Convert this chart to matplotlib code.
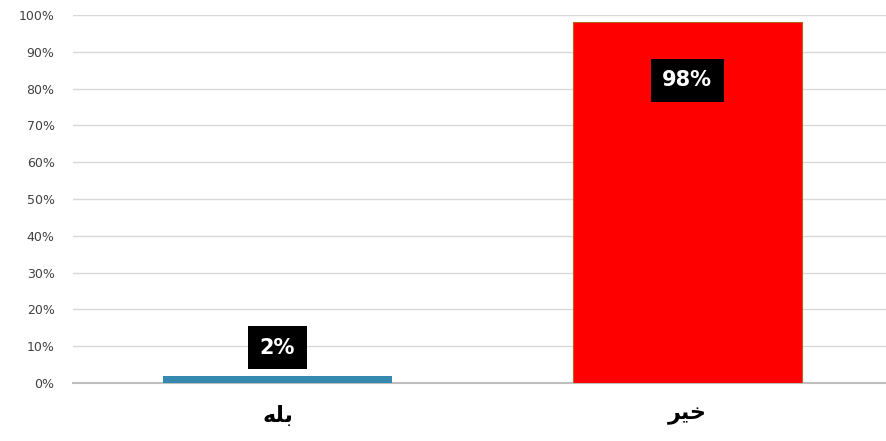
import matplotlib
matplotlib.use("Agg")
import matplotlib.pyplot as plt
from matplotlib.ticker import FuncFormatter

categories = ["بله", "خیر"]
values = [2, 98]
colors = ["#3589ae", "#ff0000"]
yticks = list(range(0, 101, 10))

# presentation forms: isolated, final, initial, medial (None = no left join)
FORMS = {
    "ب": ("\uFE8F", "\uFE90", "\uFE91", "\uFE92"),
    "ل": ("\uFEDD", "\uFEDE", "\uFEDF", "\uFEE0"),
    "ه": ("\uFEE9", "\uFEEA", "\uFEEB", "\uFEEC"),
    "خ": ("\uFEA5", "\uFEA6", "\uFEA7", "\uFEA8"),
    "ی": ("\uFBFC", "\uFBFD", "\uFBFE", "\uFBFF"),
    "ر": ("\uFEAD", "\uFEAE", None, None),
}


def shape(word):
    out = []
    for i, ch in enumerate(word):
        f = FORMS.get(ch)
        if f is None:
            out.append(ch)
            continue
        prev = FORMS.get(word[i - 1]) if i > 0 else None
        joins_prev = prev is not None and prev[2] is not None
        joins_next = i < len(word) - 1 and f[2] is not None and word[i + 1] in FORMS
        if joins_prev and joins_next:
            out.append(f[3])
        elif joins_prev:
            out.append(f[1])
        elif joins_next:
            out.append(f[2])
        else:
            out.append(f[0])
    return "".join(reversed(out))


plt.rcParams['font.family'] = ['DejaVu Sans']

fig = plt.figure(figsize=(8.86, 4.41), dpi=100)
ax = fig.add_axes([0.082, 0.1315, 0.918, 0.8345])

x = range(len(categories))
bars = ax.bar(x, values, width=0.56, color=colors, zorder=3)
bars[1].set_edgecolor("#b5651d")
bars[1].set_linewidth(0.8)

ax.set_xlim(-0.5, 1.485)
ax.set_ylim(0, 100)
ax.set_yticks(yticks)
ax.yaxis.set_major_formatter(FuncFormatter(lambda v, _: "%d%%" % v))
ax.grid(axis="y", color="#d9d9d9", linewidth=1, zorder=0)
ax.tick_params(axis="y", length=0, pad=13, labelsize=9, labelcolor="#404040")
ax.tick_params(axis="x", length=0, pad=16)
ax.set_xticks(list(x))
ax.set_xticklabels([shape(c) for c in categories], fontsize=16, fontweight="bold")

for s in ["top", "right", "left"]:
    ax.spines[s].set_visible(False)
ax.spines["bottom"].set_color("#bfbfbf")
ax.spines["bottom"].set_linewidth(1.5)
ax.spines["bottom"].set_zorder(2)

offsets = [28, -58]
for xi, v, off in zip(x, values, offsets):
    ax.annotate("%d%%" % v, (xi, v), xytext=(0, off * 0.72), textcoords="offset points",
                ha="center", va="center", fontsize=15, fontweight="bold", color="white",
                bbox=dict(boxstyle="square,pad=0.55", fc="black", ec="none"), zorder=5)

fig.savefig("out.png", dpi=100)
